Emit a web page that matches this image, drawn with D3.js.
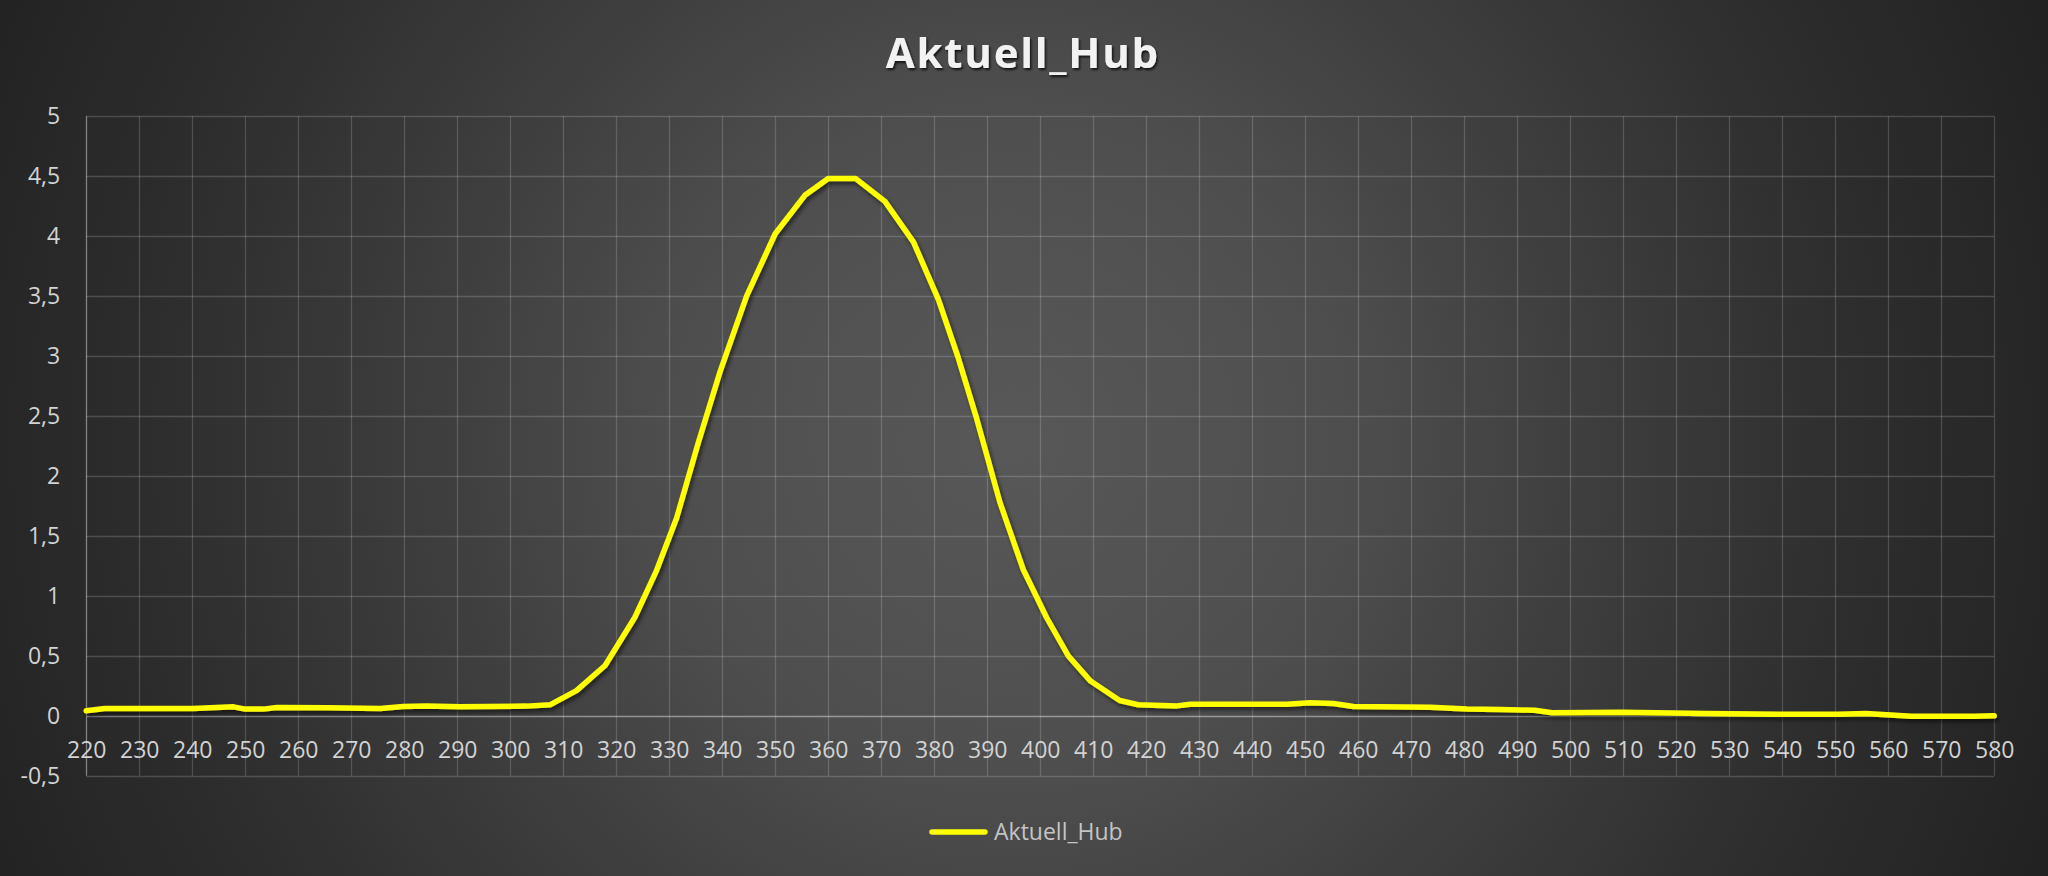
<!DOCTYPE html>
<html><head><meta charset="utf-8">
<script src="https://cdn.jsdelivr.net/npm/d3@7"></script>
<style>html,body{margin:0;padding:0;background:#2a2a2a;overflow:hidden}</style>
</head><body><svg id="c" width="2048" height="876"></svg>
<script>
const chartTitle = "Aktuell_Hub";
const seriesName = "Aktuell_Hub";
const xValues = [220, 223.5, 240.2, 247.8, 250.0, 253.4, 256, 265.4, 275.5, 279.8, 284.2, 290.6, 303.1, 307.5,
  312.5, 317.9, 323.5, 327.5, 331.4, 335.5, 339.6, 344.6, 350.0, 355.6, 360.0, 365.2, 370.7, 376.1, 380.8,
  384.5, 388.0, 392.4, 396.8, 401.2, 405.3, 409.5, 415.0, 418.5, 425.8, 428.3, 446.5, 450.9, 455.3, 459.1,
  473.6, 480.5, 486.7, 493.3, 496.6, 509.8, 525.6, 539.4, 550.5, 555.8, 564.4, 576.3, 580];
const yValues = [0.042, 0.061, 0.061, 0.075, 0.056, 0.056, 0.07, 0.067, 0.061, 0.078, 0.083, 0.075, 0.081, 0.092,
  0.21, 0.42, 0.82, 1.20, 1.65, 2.28, 2.87, 3.50, 4.02, 4.34, 4.48, 4.48, 4.29, 3.95, 3.47,
  2.99, 2.48, 1.78, 1.22, 0.82, 0.50, 0.29, 0.128, 0.092, 0.083, 0.097, 0.097, 0.11, 0.103, 0.078,
  0.072, 0.056, 0.052, 0.047, 0.025, 0.03, 0.019, 0.014, 0.014, 0.019, -0.003, -0.003, 0];
const xTickValues = [220,230,240,250,260,270,280,290,300,310,320,330,340,350,360,370,380,390,400,
  410,420,430,440,450,460,470,480,490,500,510,520,530,540,550,560,570,580];
const yTickValues = [-0.5,0,0.5,1,1.5,2,2.5,3,3.5,4,4.5,5];
const yTickLabels = ["-0,5","0","0,5","1","1,5","2","2,5","3","3,5","4","4,5","5"];

const W = 2048, H = 876;
const svg = d3.select("#c");
const defs = svg.append("defs");
const rg = defs.append("radialGradient").attr("id","bg").attr("gradientUnits","userSpaceOnUse")
  .attr("cx",1010).attr("cy",440).attr("r",1120);
[[0,"#585858"],[0.3,"#4e4e4e"],[0.5,"#3f3f3f"],[0.75,"#2e2e2e"],[1,"#222222"]].forEach(s=>
  rg.append("stop").attr("offset",s[0]).attr("stop-color",s[1]));
const sh = defs.append("filter").attr("id","lsh").attr("x","-5%").attr("y","-5%").attr("width","110%").attr("height","110%");
sh.append("feDropShadow").attr("dx",2).attr("dy",3).attr("stdDeviation",2).attr("flood-color","#000").attr("flood-opacity",0.55);
const tsh = defs.append("filter").attr("id","tsh");
tsh.append("feDropShadow").attr("dx",1.5).attr("dy",2).attr("stdDeviation",1.2).attr("flood-color","#000").attr("flood-opacity",0.75);

svg.append("rect").attr("width",W).attr("height",H).attr("fill","url(#bg)");

const x = d3.scaleLinear().domain([220,580]).range([86.2,1994.2]);
const y = d3.scaleLinear().domain([-0.5,5]).range([775.8,116.2]);

// grid
const grid = svg.append("g");
grid.selectAll("line.h").data(yTickValues).join("line")
  .attr("x1",x(220)).attr("x2",x(580)).attr("y1",d=>Math.round(y(d))+0.5).attr("y2",d=>Math.round(y(d))+0.5)
  .attr("stroke", d=> d===0 ? "rgba(255,255,255,0.42)" : "rgba(255,255,255,0.17)").attr("stroke-width",1.3);
grid.selectAll("line.v").data(xTickValues).join("line")
  .attr("x1",d=>Math.round(x(d))+0.5).attr("x2",d=>Math.round(x(d))+0.5).attr("y1",y(5)).attr("y2",y(-0.5))
  .attr("stroke", d=> d===220 ? "rgba(255,255,255,0.42)" : "rgba(255,255,255,0.17)").attr("stroke-width",1.3);

const font = "'Open Sans', 'DejaVu Sans', sans-serif";
// x axis labels
const xa = svg.append("g").attr("transform",`translate(0,${y(0)})`)
  .call(d3.axisBottom(x).tickValues(xTickValues).tickSize(0).tickPadding(26).tickFormat(d3.format("d")));
xa.select(".domain").remove();
xa.selectAll("text").attr("font-family",font).attr("font-size",23).attr("fill","#d2d2d2");
// y axis labels
const ya = svg.append("g").attr("transform",`translate(${x(220)},0)`)
  .call(d3.axisLeft(y).tickValues(yTickValues).tickSize(0).tickPadding(26).tickFormat((d,i)=>yTickLabels[i]));
ya.select(".domain").remove();
ya.selectAll("text").attr("font-family",font).attr("font-size",23).attr("fill","#d2d2d2");

// series
const pts = xValues.map((v,i)=>[v,yValues[i]]);
svg.append("path").datum(pts)
  .attr("d", d3.line().x(d=>x(d[0])).y(d=>y(d[1])))
  .attr("fill","none").attr("stroke","#ffff00").attr("stroke-width",5.5)
  .attr("stroke-linejoin","round").attr("stroke-linecap","round").attr("filter","url(#lsh)");

// title
const t = svg.append("text").attr("x",1022).attr("y",68).attr("text-anchor","middle")
  .attr("font-family",font).attr("font-weight","bold").attr("font-size",42)
  .attr("fill","#f2f2f2").attr("filter","url(#tsh)").text(chartTitle);
const tl = t.node().getComputedTextLength();
const ls = (274 - tl) / (chartTitle.length);
t.attr("letter-spacing", ls).attr("x", 1022 + ls/2);

// legend
const lg = svg.append("g");
lg.append("line").attr("x1",932).attr("x2",985).attr("y1",832).attr("y2",832)
  .attr("stroke","#ffff00").attr("stroke-width",5.5).attr("stroke-linecap","round");
lg.append("text").attr("x",994).attr("y",840).attr("font-family",font).attr("font-size",23)
  .attr("fill","#c4c4c4").text(seriesName);
</script></body></html>
